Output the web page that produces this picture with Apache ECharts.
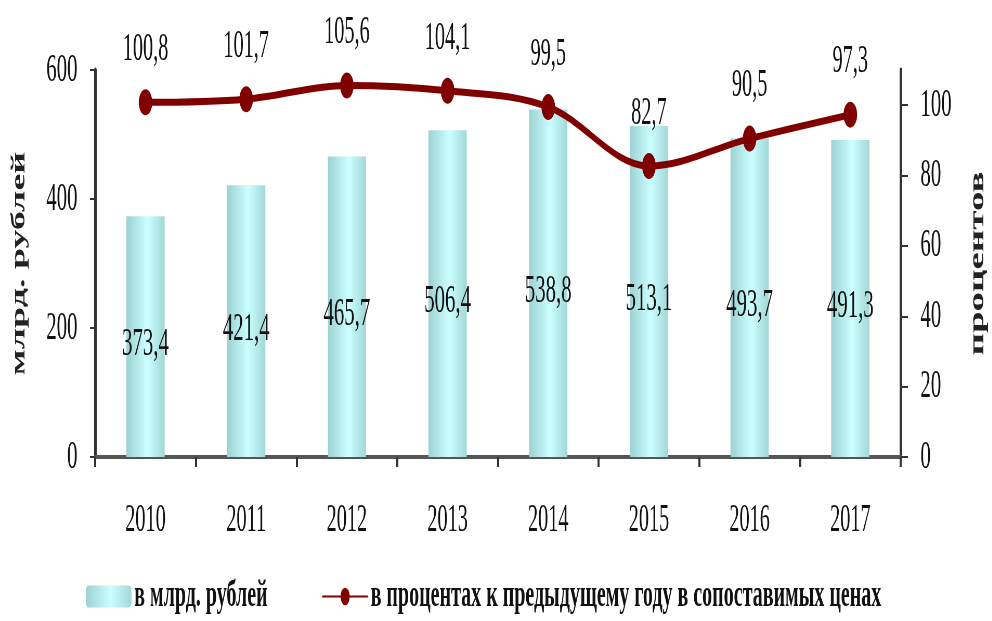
<!DOCTYPE html>
<html>
<head>
<meta charset="utf-8">
<script src="https://cdn.jsdelivr.net/npm/echarts@6/dist/echarts.min.js"></script>
<style>
  html, body { margin: 0; padding: 0; overflow: hidden; background: #fff; }
  /* the original picture is squeezed horizontally, so the chart is drawn wide and scaled down */
  #main { width: 1908px; height: 621px; transform: scaleX(0.52); transform-origin: 0 0; }
</style>
</head>
<body>
<div id="main"></div>
<script>
  const years = ['2010', '2011', '2012', '2013', '2014', '2015', '2016', '2017'];
  const valuesBln = [373.4, 421.4, 465.7, 506.4, 538.8, 513.1, 493.7, 491.3];
  const pctPrevYear = [100.8, 101.7, 105.6, 104.1, 99.5, 82.7, 90.5, 97.3];
  const leftTicks = [0, 200, 400, 600];
  const rightTicks = [0, 20, 40, 60, 80, 100];

  const serif = '"Liberation Serif", "Times New Roman", serif';
  const comma = v => v.toFixed(1).replace('.', ',');

  const chart = echarts.init(document.getElementById('main'));
  chart.setOption({
    animation: false,
    textStyle: {fontFamily: serif, color: '#111'},
    grid: {left: 183, right: 168, top: 70, bottom: 164},
    legend: {
      left: 160,
      top: 572,
      itemWidth: 88,
      itemHeight: 22,
      itemGap: 104,
      textStyle: {fontFamily: serif, fontSize: 38.5, fontWeight: 'bold', color: '#111'},
      data: ['в млрд. рублей', 'в процентах к предыдущему году в сопоставимых ценах']
    },
    xAxis: {
      type: 'category',
      data: years,
      axisLine: {lineStyle: {color: '#555', width: 4}},
      axisTick: {show: true, length: 10, lineStyle: {color: '#333', width: 4}},
      axisLabel: {fontSize: 39, margin: 44, color: '#111'}
    },
    yAxis: [
      {
        type: 'value',
        min: 0,
        max: 600,
        interval: 200,
        name: 'млрд. рублей',
        nameLocation: 'middle',
        nameRotate: 90,
        nameGap: 127,
        nameTextStyle: {fontFamily: serif, fontSize: 38, fontWeight: 'bold', color: '#222'},
        axisLine: {show: true, lineStyle: {color: '#333', width: 5}},
        axisTick: {show: true, length: 10, lineStyle: {color: '#333', width: 2}, customValues: leftTicks},
        axisLabel: {fontSize: 40, margin: 34, color: '#111', customValues: leftTicks},
        splitLine: {show: false}
      },
      {
        type: 'value',
        min: 0,
        max: 110,
        position: 'right',
        name: 'процентов',
        nameLocation: 'middle',
        nameRotate: 90,
        nameGap: 129,
        nameTextStyle: {fontFamily: serif, fontSize: 39, fontWeight: 'bold', color: '#222'},
        axisLine: {show: true, lineStyle: {color: '#333', width: 5}},
        axisTick: {show: true, length: 14, lineStyle: {color: '#333', width: 2}, customValues: rightTicks},
        axisLabel: {fontSize: 40, margin: 38, color: '#111', customValues: rightTicks},
        splitLine: {show: false}
      }
    ],
    series: [
      {
        name: 'в млрд. рублей',
        type: 'bar',
        data: valuesBln,
        barWidth: '38%',
        itemStyle: {
          color: new echarts.graphic.LinearGradient(0, 0, 1, 0, [
            {offset: 0, color: '#9dd2d2'},
            {offset: 0.55, color: '#ccffff'},
            {offset: 1, color: '#a2d7d7'}
          ])
        },
        label: {
          show: true,
          position: 'inside',
          offset: [0, 8],
          fontFamily: serif,
          fontSize: 40,
          color: '#111',
          formatter: p => comma(p.value)
        }
      },
      {
        name: 'в процентах к предыдущему году в сопоставимых ценах',
        type: 'line',
        yAxisIndex: 1,
        data: pctPrevYear,
        smooth: 0.35,
        symbol: 'circle',
        symbolSize: 26,
        z: 5,
        lineStyle: {color: '#800000', width: 7},
        itemStyle: {color: '#800000'},
        label: {
          show: true,
          position: 'top',
          distance: 20,
          fontFamily: serif,
          fontSize: 39,
          color: '#111',
          formatter: p => comma(p.value)
        }
      }
    ]
  });
</script>
</body>
</html>
